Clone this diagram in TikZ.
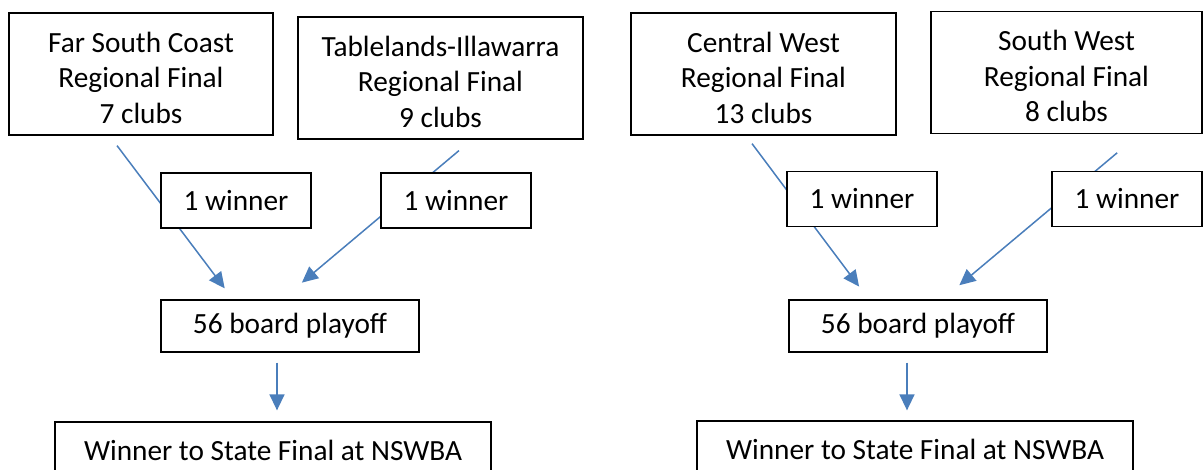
\documentclass[tikz,border=0pt]{standalone}
\usepackage{fontspec}
\setmainfont{Carlito}
\usetikzlibrary{arrows.meta}
\definecolor{feedblue}{RGB}{74,126,187}
\newcommand\regionstrut{\rule{0pt}{28pt}}

\begin{document}
\begin{tikzpicture}[x=1pt,y=-1pt,
    box/.style={draw,line width=1.3pt,fill=white,align=center,inner sep=0pt,
      font=\fontsize{29.3}{35.5}\selectfont},
    region/.style={box,minimum height=122pt},
    winner/.style={box,minimum width=150pt,minimum height=55pt},
    playoff/.style={box,minimum width=258pt,minimum height=52pt},
    final/.style={box,minimum width=436pt,minimum height=56pt},
    feed/.style={draw=feedblue,line width=1.5pt,-{Triangle[length=16pt,width=15pt]}}]
     \path[use as bounding box,clip] (0,0) rectangle (1203,469);
     % left half
     \node[region,minimum width=264pt] (fsc) at ( 141.0, 74) {\regionstrut Far South Coast\\Regional Final\\7 clubs};
     \node[region,minimum width=285pt] (til) at ( 440.5, 78) {\regionstrut Tablelands-Illawarra\\Regional Final\\9 clubs};
     \node[playoff] (poA)  at ( 290.0,326) {56 board playoff};
     \node[final]   (finA) at ( 273.0,450) {Winner to State Final at NSWBA};
     % right half
     \node[region,minimum width=265pt] (cw) at ( 763.5, 74) {\regionstrut Central West\\Regional Final\\13 clubs};
     \node[region,minimum width=271pt] (sw) at (1066.5, 72.5) {\regionstrut South West\\Regional Final\\8 clubs};
     \node[playoff] (poB)  at ( 918.0,326) {56 board playoff};
     \node[final]   (finB) at ( 915.0,449) {Winner to State Final at NSWBA};
     % connectors
     \draw[feed,shorten <=12.5pt,shorten >=13.75pt] ([xshift=-31.5pt]fsc.south) -- ([xshift=-57pt]poA.north);
     \draw[feed,shorten <=17pt,shorten >=26pt]      ([xshift=31.5pt]til.south)  -- ([xshift=-8pt]poA.north);
     \draw[feed,shorten <=10pt,shorten >=11pt]      ([xshift=-13pt]poA.south)   -- ([xshift=4pt]finA.north);
     \draw[feed,shorten <=10pt,shorten >=16pt]      ([xshift=-17.5pt]cw.south)  -- ([xshift=-49.3pt]poB.north);
     \draw[feed,shorten <=29pt,shorten >=22pt]      ([xshift=72.9pt]sw.south)   -- ([xshift=24.5pt]poB.north);
     \draw[feed,shorten <=10pt,shorten >=10pt]      ([xshift=-11pt]poB.south)   -- ([xshift=-8pt]finB.north);
     % winner boxes on top of the lines
     \node[winner] (wfsc) at ( 236.0,200.5) {1 winner};
     \node[winner] (wtil) at ( 456.0,200.5) {1 winner};
     \node[winner] (wcw)  at ( 862.0,199.0) {1 winner};
     \node[winner] (wsw)  at (1127.0,199.0) {1 winner};
\end{tikzpicture}
\end{document}
